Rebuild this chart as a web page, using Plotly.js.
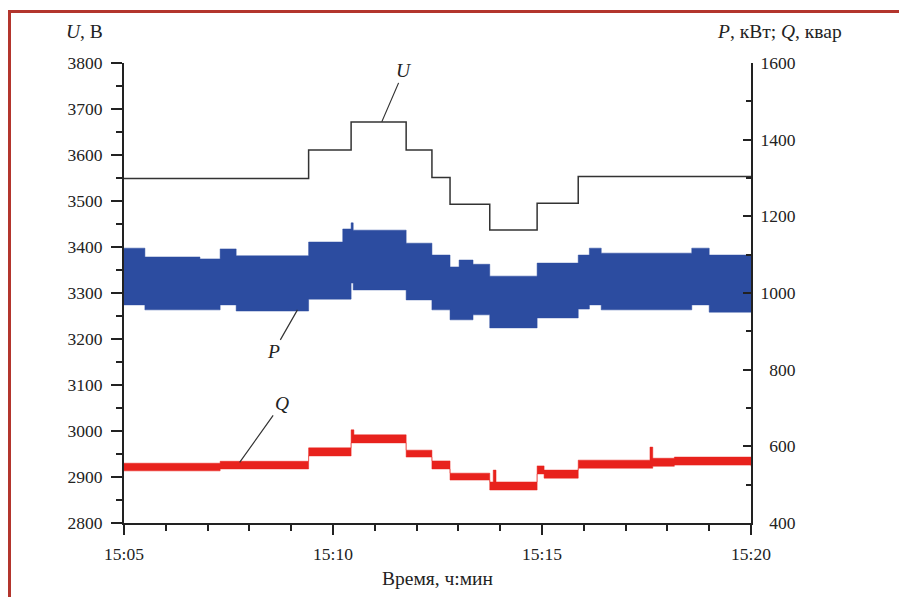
<!DOCTYPE html>
<html>
<head>
<meta charset="utf-8">
<script src="https://cdn.plot.ly/plotly-3.0.1.min.js"></script>
<style>
  html, body { margin: 0; padding: 0; background: #ffffff; overflow: hidden; }
  #frame { position: absolute; left: 8px; top: 10px; width: 2000px; height: 2000px;
           border: 3px solid #b3352d; box-sizing: border-box; pointer-events: none; }
  #chart { position: absolute; left: 0; top: 0; width: 899px; height: 597px; }
</style>
</head>
<body>
<div id="chart"></div>
<div id="frame"></div>
<script>
// ---- Data ----
const day = '2000-01-01 ';

// U, В (left axis), step line
const uTime = ['15:05:00','15:09:25','15:10:26','15:11:45','15:12:22','15:12:48','15:13:45','15:14:53','15:15:52','15:20:00'];
const uVal  = [3549, 3611, 3672, 3611, 3551, 3493, 3437, 3495, 3553, 3553];

// P, кВт (right axis): upper / lower envelope of the oscillating band
const pTime  = ['15:05:00','15:05:30','15:06:49','15:07:18','15:07:41','15:09:25','15:10:14','15:10:26','15:10:29','15:11:45','15:12:22','15:12:48','15:13:01','15:13:21','15:13:45','15:14:53','15:15:52','15:16:08','15:16:25','15:18:35','15:19:00','15:20:00'];
const pUpper = [1117, 1094, 1089, 1115, 1097, 1133, 1167, 1183, 1164, 1130, 1099, 1068, 1086, 1075, 1044, 1078, 1099, 1117, 1104, 1117, 1099, 1099];
const pLower = [ 969,  956,  956,  969,  953,  984,  984, 1026, 1008,  982,  956,  930,  930,  943,  909,  935,  958,  969,  956,  969,  950,  950];

// Q, квар (right axis): upper / lower envelope of the band
const qTime  = ['15:05:00','15:07:18','15:09:25','15:10:26','15:10:30','15:11:45','15:12:22','15:12:48','15:13:45','15:13:50','15:13:54','15:14:53','15:15:03','15:15:52','15:17:35','15:17:39','15:18:10','15:20:00'];
const qUpper = [556, 561, 596, 643, 630, 590, 562, 530, 507, 538, 507, 549, 538, 564, 598, 569, 572, 568];
const qLower = [536, 541, 575, 609, 609, 572, 541, 512, 486, 486, 486, 528, 517, 543, 543, 548, 551, 548];

// Axis ticks
const yLeftTicks  = [2800, 2900, 3000, 3100, 3200, 3300, 3400, 3500, 3600, 3700, 3800];
const yRightTicks = [400, 600, 800, 1000, 1200, 1400, 1600];
const xRange = ['15:05:00', '15:20:00'];

// ---- Build the chart ----
const toDate = a => a.map(t => day + t);
const FONT = 'Liberation Serif, Times New Roman, Times, serif';
const INK = '#222222';
const BLUE = '#2c4ca0';
const RED = '#e8221d';

const traces = [
  { x: toDate(pTime), y: pLower, yaxis: 'y2', mode: 'lines', line: {shape: 'hv', width: 0.5, color: BLUE},
    hoverinfo: 'skip', showlegend: false },
  { x: toDate(pTime), y: pUpper, yaxis: 'y2', mode: 'lines', line: {shape: 'hv', width: 0.5, color: BLUE},
    fill: 'tonexty', fillcolor: BLUE, showlegend: false, name: 'P' },
  { x: toDate(qTime), y: qLower, yaxis: 'y2', mode: 'lines', line: {shape: 'hv', width: 0.5, color: RED},
    hoverinfo: 'skip', showlegend: false },
  { x: toDate(qTime), y: qUpper, yaxis: 'y2', mode: 'lines', line: {shape: 'hv', width: 0.5, color: RED},
    fill: 'tonexty', fillcolor: RED, showlegend: false, name: 'Q' },
  { x: toDate(uTime), y: uVal, yaxis: 'y', mode: 'lines', line: {shape: 'hv', width: 1.5, color: '#333333'},
    showlegend: false, name: 'U' }
];

const layout = {
  width: 899, height: 597,
  margin: {l: 124, r: 147.5, t: 63, b: 74, pad: 0},
  paper_bgcolor: '#ffffff', plot_bgcolor: '#ffffff',
  font: {family: FONT, size: 17, color: INK},
  showlegend: false,
  xaxis: {
    type: 'date', range: toDate(xRange),
    tickformat: '%H:%M', dtick: 300000, tick0: day + '15:05:00',
    ticks: 'outside', ticklen: 10, tickwidth: 2, tickcolor: INK,
    minor: {dtick: 60000, ticks: 'outside', ticklen: 6, tickwidth: 2, tickcolor: INK, showgrid: false},
    showline: true, linewidth: 2, linecolor: INK, showgrid: false, zeroline: false,
    ticklabelstandoff: 4,
    tickfont: {family: FONT, size: 17.5, color: INK},
    title: {text: 'Время, ч:мин', font: {family: FONT, size: 19.5, color: INK}, standoff: 8}
  },
  yaxis: {
    range: [2800, 3800], tickvals: yLeftTicks,
    ticks: 'outside', ticklen: 11, tickwidth: 2, tickcolor: INK,
    minor: {dtick: 50, ticks: 'outside', ticklen: 6, tickwidth: 2, tickcolor: INK, showgrid: false},
    showline: true, linewidth: 2, linecolor: INK, showgrid: false, zeroline: false,
    tickfont: {family: FONT, size: 17.5, color: INK},
    ticklabelstandoff: 5
  },
  yaxis2: {
    range: [400, 1600], overlaying: 'y', side: 'right',
    tickvals: yRightTicks, ticktext: yRightTicks.map(v => String(v).padStart(4, '\u2007')),
    ticks: 'inside', ticklen: 8, tickwidth: 2, tickcolor: INK,
    minor: {dtick: 100, ticks: 'inside', ticklen: 5, tickwidth: 2, tickcolor: INK, showgrid: false},
    showline: true, linewidth: 2, linecolor: INK, showgrid: false, zeroline: false,
    tickfont: {family: FONT, size: 17.5, color: INK},
    ticklabelstandoff: 4
  },
  annotations: [
    {xref: 'paper', yref: 'paper', x: -0.0303, y: 1.0674, xanchor: 'right', yanchor: 'middle',
     text: '<i>U</i>, В', showarrow: false, font: {family: FONT, size: 19.5, color: INK}},
    {xref: 'paper', yref: 'paper', x: 0.9418, y: 1.0674, xanchor: 'left', yanchor: 'middle',
     text: '<i>P</i>, кВт; <i>Q</i>, квар', showarrow: false, font: {family: FONT, size: 19.5, color: INK}},
    {xref: 'x', yref: 'y', x: day + '15:11:10', y: 3672, text: '<i>U</i>', showarrow: true,
     arrowhead: 0, arrowwidth: 1.2, arrowcolor: '#333', ax: 22, ay: -51, font: {family: FONT, size: 19.5, color: INK}},
    {xref: 'x', yref: 'y2', x: day + '15:09:09', y: 956, text: '<i>P</i>', showarrow: true,
     arrowhead: 0, arrowwidth: 1.2, arrowcolor: '#333', ax: -24, ay: 42, font: {family: FONT, size: 19.5, color: INK}},
    {xref: 'x', yref: 'y2', x: day + '15:07:46', y: 558, text: '<i>Q</i>', showarrow: true,
     arrowhead: 0, arrowwidth: 1.2, arrowcolor: '#333', ax: 42, ay: -59, font: {family: FONT, size: 19.5, color: INK}}
  ]
};

Plotly.newPlot('chart', traces, layout, {displayModeBar: false, staticPlot: true});
</script>
</body>
</html>
